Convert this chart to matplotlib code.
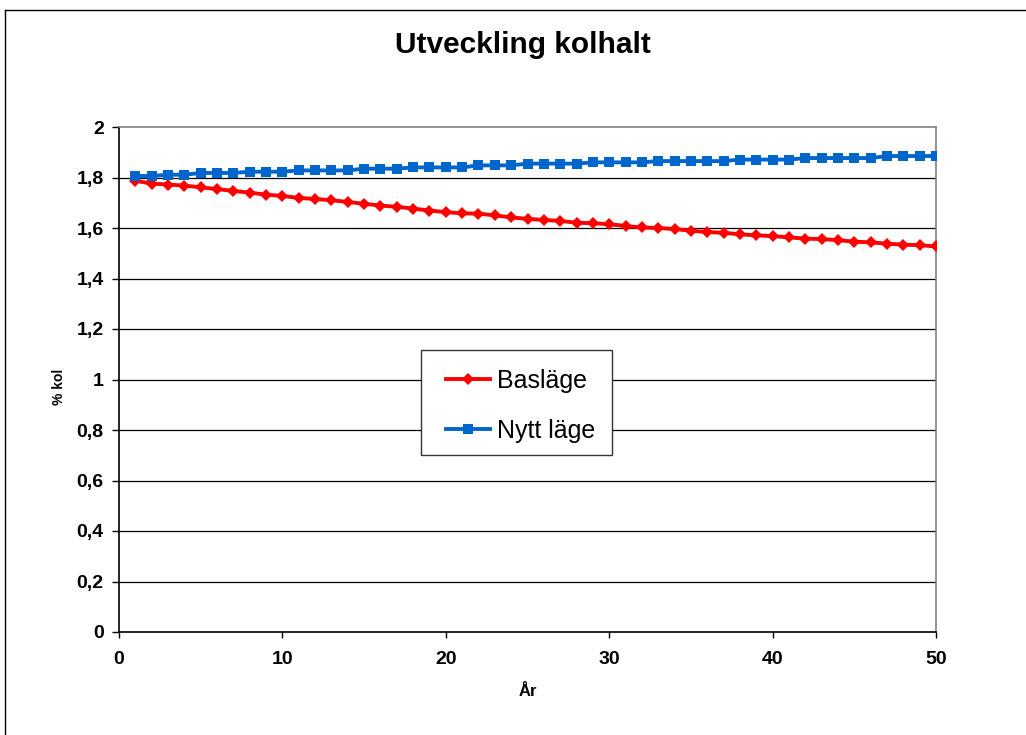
import matplotlib
matplotlib.use("Agg")
import matplotlib.pyplot as plt
from matplotlib.lines import Line2D
from matplotlib.patches import Rectangle

plt.rcParams['font.family'] = ['Liberation Sans', 'DejaVu Sans']

years = list(range(1, 51))
basläge = [1.787, 1.776, 1.772, 1.768, 1.761, 1.754, 1.747, 1.740, 1.732, 1.727,
           1.719, 1.715, 1.710, 1.703, 1.696, 1.689, 1.684, 1.677, 1.669, 1.663,
           1.658, 1.657, 1.650, 1.642, 1.636, 1.632, 1.628, 1.621, 1.619, 1.615,
           1.608, 1.602, 1.600, 1.596, 1.589, 1.584, 1.581, 1.575, 1.571, 1.568,
           1.563, 1.558, 1.556, 1.552, 1.546, 1.543, 1.538, 1.534, 1.532, 1.527]
nytt_läge = [1.806, 1.806, 1.811, 1.811, 1.818, 1.818, 1.818, 1.823, 1.823, 1.823,
             1.828, 1.828, 1.828, 1.828, 1.835, 1.835, 1.835, 1.840, 1.840, 1.840,
             1.840, 1.848, 1.848, 1.848, 1.855, 1.855, 1.855, 1.855, 1.860, 1.860,
             1.860, 1.860, 1.865, 1.865, 1.865, 1.865, 1.865, 1.871, 1.871, 1.871,
             1.871, 1.877, 1.877, 1.877, 1.877, 1.877, 1.885, 1.885, 1.885, 1.885]

x_ticks = [0, 10, 20, 30, 40, 50]
y_ticks = [0, 0.2, 0.4, 0.6, 0.8, 1.0, 1.2, 1.4, 1.6, 1.8, 2.0]
y_labels = ['0', '0,2', '0,4', '0,6', '0,8', '1', '1,2', '1,4', '1,6', '1,8', '2']

W, H = 1026, 735
fig = plt.figure(figsize=(W / 100, H / 100), dpi=100)
ax = fig.add_axes([119 / W, 1 - 632 / H, (936 - 119) / W, (632 - 127) / H])

for yv in y_ticks[1:-1]:
    ax.axhline(yv, color='black', lw=0.9, zorder=1)

l1, = ax.plot(years, basläge, color='#ff0000', lw=2.8, marker='D', markersize=6,
              markeredgewidth=0, label='Basläge', zorder=3)
l2, = ax.plot(years, nytt_läge, color='#0066cc', lw=2.8, marker='s', markersize=6.5,
              markeredgewidth=0, label='Nytt läge', zorder=3)

ax.set_xlim(0, 50)
ax.set_ylim(0, 2)
ax.set_xticks(x_ticks)
ax.set_yticks(y_ticks)
ax.set_yticklabels(y_labels)
for lab in ax.get_xticklabels() + ax.get_yticklabels():
    lab.set_fontweight('bold')
    lab.set_fontsize(14)
ax.tick_params(axis='x', direction='out', length=4.5, width=1, pad=9)
ax.tick_params(axis='y', direction='out', length=5, width=1, pad=6)

for side in ['left', 'bottom']:
    ax.spines[side].set_color('black')
    ax.spines[side].set_linewidth(1.2)
for side in ['top', 'right']:
    ax.spines[side].set_color('#808080')
    ax.spines[side].set_linewidth(1.2)

ax.set_xlabel('År', fontsize=12, fontweight='bold', labelpad=12)
ax.set_ylabel('% kol', fontsize=10, fontweight='bold')
ax.yaxis.set_label_coords(-0.065, 0.485)

fig.text(523 / W, 1 - 45 / H, 'Utveckling kolhalt', ha='center', va='center',
         fontsize=21.5, fontweight='bold')

# legend frame drawn separately, legend contents positioned inside
frame = Rectangle((421 / W, 1 - 455 / H), (612 - 421) / W, (455 - 350) / H,
                  transform=fig.transFigure, facecolor='white',
                  edgecolor='#333333', lw=1.0, zorder=4)
fig.add_artist(frame)
leg = fig.legend(handles=[l1, l2], loc='center left',
                 bbox_to_anchor=(446 / W, 1 - 406 / H),
                 bbox_transform=fig.transFigure,
                 fontsize=18, frameon=False, handlelength=1.75, borderpad=0,
                 labelspacing=1.04, handletextpad=0.3, borderaxespad=0)
leg.set_zorder(5)

# outer chart border
fig.add_artist(Line2D([5 / W, 5 / W], [0, 1 - 10 / H], transform=fig.transFigure,
                      color='black', lw=1.0))
fig.add_artist(Line2D([5 / W, 1], [1 - 10 / H, 1 - 10 / H], transform=fig.transFigure,
                      color='black', lw=1.0))

fig.savefig('out.png', dpi=100)
